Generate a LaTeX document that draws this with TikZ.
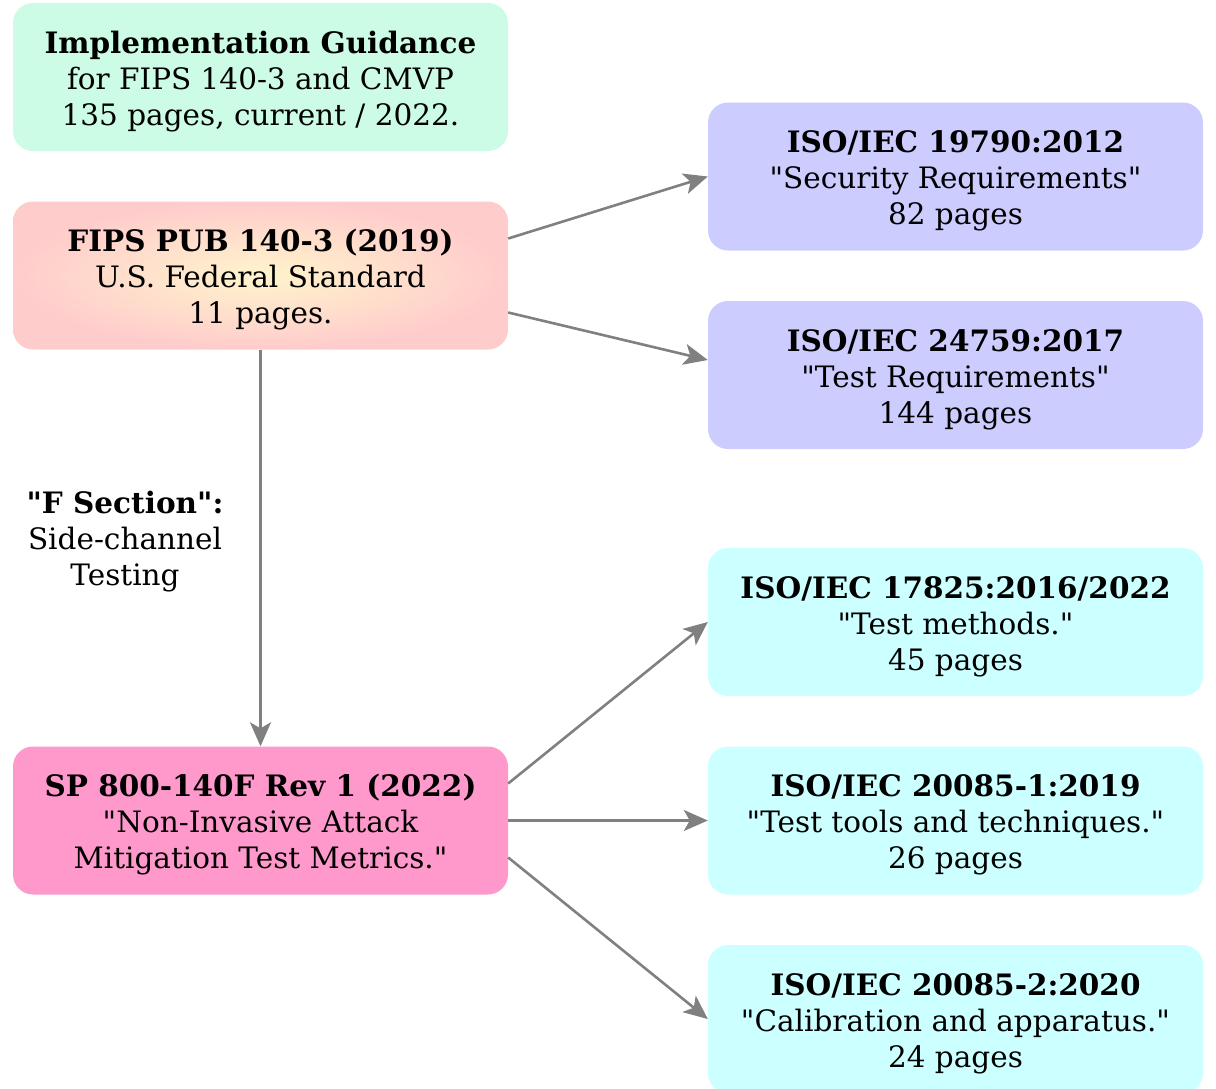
\documentclass[tikz,border=0pt]{standalone}
\usepackage{fontspec}
\setmainfont{DejaVu Serif}
\usetikzlibrary{arrows.meta, positioning}

\definecolor{guidegreen}{HTML}{CCFCE6}
\definecolor{fipspink}{HTML}{FFCCCC}
\definecolor{fipsglow}{HTML}{FFF4CC}
\definecolor{isoblue}{HTML}{CCCCFF}
\definecolor{isocyan}{HTML}{CCFFFF}
\definecolor{sppink}{HTML}{FF99CC}
\definecolor{linkgray}{HTML}{808080}

\newcommand{\qt}{\textquotedbl}
% bold title line, with a strut that sets the text a little lower
\newcommand{\headline}[1]{\rule{0pt}{31.5pt}\textbf{#1}}

\begin{document}
\begin{tikzpicture}[x=1pt, y=-1pt,
    txt/.style={align=center, font=\fontsize{29.5}{36}\selectfont, inner sep=0pt},
    doc/.style={txt, rectangle, rounded corners=20pt, minimum width=495pt, minimum height=148pt},
    every edge/.style={draw, linkgray, line width=2.6pt, -{Stealth[length=24pt, width=21pt, inset=6pt]}}
]
\clip (0,0) rectangle (1216,1088);

% Left column
\node[doc, fill=guidegreen] (guide) at (260.5, 77) {\headline{Implementation Guidance}\\for FIPS 140-3 and CMVP\\135 pages, current / 2022.};
\node[doc, inner color=fipsglow, outer color=fipspink] (fips) at (260.5, 275.5) {\headline{FIPS PUB 140-3 (2019)}\\U.S. Federal Standard\\11 pages.};
\node[doc, fill=sppink] (sp) at (260.5, 820.5) {\headline{SP 800-140F Rev 1 (2022)}\\\qt Non-Invasive Attack\\Mitigation Test Metrics.\qt};

% Label on the vertical link
\node[txt] (fsec) at (125, 537) {\headline{\qt F Section\qt:}\\Side-channel\\Testing};

% ISO/IEC 19790 family
\node[doc, fill=isoblue] (iso19790) at (955.5, 176.5) {\headline{ISO/IEC 19790:2012}\\\qt Security Requirements\qt\\82 pages};
\node[doc, fill=isoblue] (iso24759) at (955.5, 375) {\headline{ISO/IEC 24759:2017}\\\qt Test Requirements\qt\\144 pages};

% ISO/IEC side-channel standards
\node[doc, fill=isocyan] (iso17825) at (955.5, 622) {\headline{ISO/IEC 17825:2016/2022}\\\qt Test methods.\qt\\45 pages};
\node[doc, fill=isocyan] (iso20085a) at (955.5, 820.5) {\headline{ISO/IEC 20085-1:2019}\\\qt Test tools and techniques.\qt\\26 pages};
\node[doc, fill=isocyan] (iso20085b) at (955.5, 1019) {\headline{ISO/IEC 20085-2:2020}\\\qt Calibration and apparatus.\qt\\24 pages};

% Edges from FIPS 140-3
\path ([yshift=37pt]fips.east) edge (iso19790.west);
\path ([yshift=-37pt]fips.east) edge ([yshift=15pt]iso24759.west);
\path (fips.south) edge (sp.north);

% Edges from SP 800-140F
\path ([yshift=37pt]sp.east) edge (iso17825.west);
\path (sp.east) edge (iso20085a.west);
\path ([yshift=-37pt]sp.east) edge (iso20085b.west);

\end{tikzpicture}
\end{document}
